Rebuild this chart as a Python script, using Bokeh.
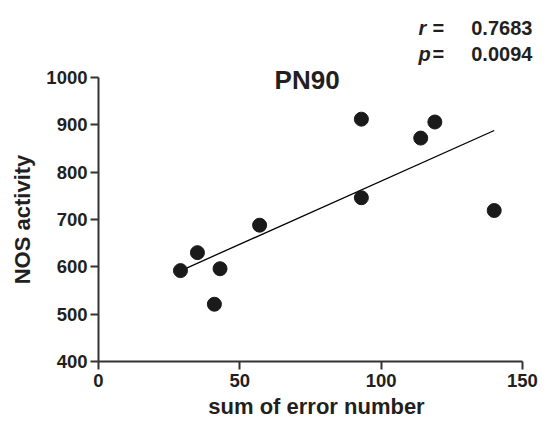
import numpy as np
from bokeh.plotting import figure
from bokeh.layouts import row
from bokeh.models import Range1d, Label, FixedTicker
from bokeh.embed import file_html
from bokeh.resources import INLINE

# data
error_sum = [29, 35, 41, 43, 57, 93, 93, 114, 119, 140]
nos_activity = [592, 630, 521, 596, 688, 912, 746, 872, 906, 719]
x_ticks = [0, 50, 100, 150]
y_ticks = [400, 500, 600, 700, 800, 900, 1000]
title_text = "PN90"
x_label = "sum of error number"
y_label = "NOS activity"
r_text = "0.7683"
p_text = "0.0094"

FONT = "Liberation Sans"
AX = "#333333"
TXT = "#231f20"

W, H = 546, 428
LW = 40   # left strip that carries the y axis title

# left strip: a bare axis whose only visible part is its label,
# centred on the same vertical span as the data axis
left = figure(width=LW, height=H, output_backend="svg", toolbar_location=None,
              x_range=Range1d(0, 1), y_range=Range1d(400, 1000), x_axis_type=None,
              frame_align=False, min_border_left=34, min_border_right=0,
              min_border_top=77, min_border_bottom=67)
left.outline_line_color = None
left.xgrid.visible = False
left.ygrid.visible = False
ly = left.yaxis[0]
ly.ticker = FixedTicker(ticks=[])
ly.axis_line_color = None
ly.major_tick_line_color = None
ly.minor_tick_line_color = None
ly.major_tick_out = 0
ly.major_label_standoff = 0
ly.axis_label = y_label
ly.axis_label_standoff = 0
ly.axis_label_text_font = FONT
ly.axis_label_text_font_style = "bold"
ly.axis_label_text_font_size = "22px"
ly.axis_label_text_color = TXT

# main plot: frame reaches the top edge so the title and statistics fit inside it
p = figure(width=W - LW, height=H, output_backend="svg", toolbar_location=None,
           x_range=Range1d(0, 154.25), y_range=Range1d(400, 1162.7), frame_align=False,
           min_border_left=58, min_border_right=12, min_border_top=0, min_border_bottom=67)
p.outline_line_color = None
p.xgrid.visible = False
p.ygrid.visible = False
p.background_fill_color = "white"
p.border_fill_color = "white"

for ax, ticks in ((p.xaxis[0], x_ticks), (p.yaxis[0], y_ticks)):
    ax.ticker = FixedTicker(ticks=ticks)
    ax.bounds = (ticks[0], ticks[-1])
    ax.minor_tick_line_color = None
    ax.major_tick_in = 0
    ax.major_tick_out = 8
    ax.axis_line_width = 2
    ax.axis_line_color = AX
    ax.major_tick_line_width = 2
    ax.major_tick_line_color = AX
    ax.major_label_text_font = FONT
    ax.major_label_text_font_style = "bold"
    ax.major_label_text_font_size = "18.5px"
    ax.major_label_text_color = TXT
    ax.axis_label_text_font = FONT
    ax.axis_label_text_font_style = "bold"
    ax.axis_label_text_font_size = "22px"
    ax.axis_label_text_color = TXT

p.xaxis.axis_label = x_label
p.xaxis.major_label_standoff = 4
p.yaxis.major_label_standoff = 3
p.xaxis.axis_label_standoff = 4

# regression line
slope, intercept = np.polyfit(error_sum, nos_activity, 1)
xs = [min(error_sum), max(error_sum)]
p.line(xs, [slope * x + intercept for x in xs], line_color="black", line_width=1.3)

p.scatter(error_sum, nos_activity, size=14, fill_color="#1a1a1a", line_color="#1a1a1a")


def label(x, y, text, align="left", style="bold", size="20px", x_offset=0):
    p.add_layout(Label(x=x, y=y, x_offset=x_offset, text=text,
                       text_align=align, text_baseline="alphabetic",
                       text_font=FONT, text_font_style=style, text_font_size=size,
                       text_color=TXT))


label(73.8, 995, title_text, align="center", size="26px")
for lab, num, yv in (("r", r_text, 1105), ("p", p_text, 1050)):
    label(113.2, yv, lab, style="bold italic")
    label(113.2, yv, "=", x_offset=14)
    label(153.5, yv, num, align="right")

layout = row(left, p, spacing=0)
open("out.html", "w").write(file_html(layout, INLINE))
